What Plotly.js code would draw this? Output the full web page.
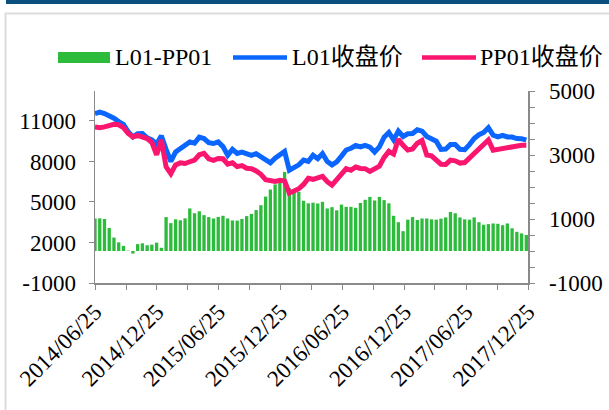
<!DOCTYPE html>
<html>
<head>
<meta charset="utf-8">
<script src="https://cdn.plot.ly/plotly-3.0.1.min.js"></script>
<style>
  html, body { margin: 0; padding: 0; background: #fff; }
  #chart { width: 609px; height: 410px; }
</style>
</head>
<body>
<div id="chart"></div>
<script>
// ---- data (biweekly samples) ----
const dates = [
  "2014-06-25","2014-07-09","2014-07-23","2014-08-06","2014-08-20","2014-09-03","2014-09-17","2014-10-01",
  "2014-10-15","2014-10-29","2014-11-12","2014-11-26","2014-12-10","2014-12-24","2015-01-07","2015-01-21",
  "2015-02-04","2015-02-18","2015-03-04","2015-03-18","2015-04-01","2015-04-15","2015-04-29","2015-05-13",
  "2015-05-27","2015-06-10","2015-06-24","2015-07-08","2015-07-22","2015-08-05","2015-08-19","2015-09-02",
  "2015-09-16","2015-09-30","2015-10-14","2015-10-28","2015-11-11","2015-11-25","2015-12-09","2015-12-23",
  "2016-01-06","2016-01-20","2016-02-03","2016-02-17","2016-03-02","2016-03-16","2016-03-30","2016-04-13",
  "2016-04-27","2016-05-11","2016-05-25","2016-06-08","2016-06-22","2016-07-06","2016-07-20","2016-08-03",
  "2016-08-17","2016-08-31","2016-09-14","2016-09-28","2016-10-12","2016-10-26","2016-11-09","2016-11-23",
  "2016-12-07","2016-12-21","2017-01-04","2017-01-18","2017-02-01","2017-02-15","2017-03-01","2017-03-15",
  "2017-03-29","2017-04-12","2017-04-26","2017-05-10","2017-05-24","2017-06-07","2017-06-21","2017-07-05",
  "2017-07-19","2017-08-02","2017-08-16","2017-08-30","2017-09-13","2017-09-27","2017-10-11","2017-10-25",
  "2017-11-08","2017-11-22","2017-12-06","2017-12-20"
];
const l01Close = [
  11550,11650,11550,11400,11200,10950,10750,10200,9820,10050,10070,9750,9600,9300,9900,8900,
  8000,8700,8950,9200,9450,9350,9800,9700,9400,9330,9450,9100,8460,8900,8600,8700,
  8580,8460,8580,8330,8100,7900,8250,8460,8750,7350,7500,7750,8100,8000,8460,8200,
  8580,8000,7750,7980,8400,8850,8980,9180,9080,9200,9070,8700,9080,9800,10150,9600,
  10250,9850,10050,10070,10350,10250,9850,9720,9500,8900,8920,9250,9250,8900,8880,9250,
  9700,9980,10150,10500,9950,9820,9940,9820,9810,9700,9690,9580
];
const pp01Close = [
  10550,10500,10560,10700,10750,10720,10500,10070,9820,9940,9830,9700,9400,8500,9600,7600,
  7100,7750,7900,7850,7980,8100,8500,8600,8200,8090,8220,8200,7800,7900,7620,7700,
  7500,7470,7300,7050,6650,6550,6520,6600,6550,5650,5850,5980,6300,6750,6680,6750,
  6900,6500,6250,6650,7020,7470,7350,7590,7480,7470,7270,7420,7650,8300,8750,8550,
  9650,9200,8850,8930,9350,9550,8480,8420,8100,7800,7780,8100,8050,7880,7920,8250,
  8600,8900,9200,9600,8840,8900,8960,9070,9070,9190,9200,9200
];
const spreadL01PP01 = [
  1016,1020,1000,720,420,270,160,10,-80,215,240,180,200,260,100,1060,
  870,990,960,1020,1330,1180,1240,1120,1060,1016,1066,1100,1016,955,950,1000,
  1090,1160,1280,1430,1700,1920,2080,2200,2470,1960,1900,1850,1570,1490,1510,1485,
  1536,1330,1370,1270,1450,1380,1380,1350,1500,1600,1690,1580,1690,1590,1490,1100,
  900,620,980,1060,970,1016,1016,990,980,1010,1050,1220,1180,1050,990,980,
  1050,900,820,840,860,850,806,860,710,600,550,500
];
const seriesNames = ["L01-PP01", "L01收盘价", "PP01收盘价"];
const leftTicks = [-1000, 2000, 5000, 8000, 11000];
const rightTicks = [-1000, 1000, 3000, 5000];

// ---- styles ----
const GREEN = "#2dbb3b", BLUE = "#0a66ff", PINK = "#fa156f";
const AXIS = "#8a8a8a";
const FONT = "Liberation Serif, 'Noto Sans CJK SC', serif";
const W = 609, H = 410;
const M = {l: 95, r: 81, t: 91, b: 127};
const pw = W - M.l - M.r, ph = H - M.t - M.b;
const px = x => (x - M.l) / pw;          // pixel -> paper x
const py = y => (H - M.b - y) / ph;      // pixel -> paper y

const traces = [
  {type: "bar", x: dates, y: spreadL01PP01, name: seriesNames[0], yaxis: "y",
   marker: {color: GREEN, line: {width: 0}}, showlegend: false},
  {type: "scatter", mode: "lines", x: dates, y: l01Close, name: seriesNames[1], yaxis: "y2",
   line: {color: BLUE, width: 5}, showlegend: false},
  {type: "scatter", mode: "lines", x: dates, y: pp01Close, name: seriesNames[2], yaxis: "y2",
   line: {color: PINK, width: 5}, showlegend: false}
];

// legend drawn as shapes + text
const legY = 57.5;
const shapes = [
  // top navy band
  {type: "rect", xref: "paper", yref: "paper", x0: px(6), x1: px(612), y0: py(4), y1: py(-2),
   fillcolor: "#0b4f7f", line: {width: 0}, layer: "below"},
  // light frame
  {type: "rect", xref: "paper", yref: "paper", x0: px(5.5), x1: px(620), y0: py(420), y1: py(13.5),
   fillcolor: "rgba(0,0,0,0)", line: {color: "#dcdcdc", width: 2}, layer: "below"},
  {type: "rect", xref: "paper", yref: "paper", x0: px(58), x1: px(110), y0: py(63), y1: py(52),
   fillcolor: GREEN, line: {width: 0}},
  {type: "line", xref: "paper", yref: "paper", x0: px(233), x1: px(287), y0: py(legY), y1: py(legY),
   line: {color: BLUE, width: 4.5}},
  {type: "line", xref: "paper", yref: "paper", x0: px(422), x1: px(476), y0: py(legY), y1: py(legY),
   line: {color: PINK, width: 4.5}}
];
const legX = [113, 290, 478];
const annotations = seriesNames.map((t, i) => ({
  text: t, xref: "paper", yref: "paper", x: px(legX[i]), y: py(legY),
  xanchor: "left", yanchor: "middle", showarrow: false,
  font: {family: FONT, size: 24, color: "#000"}
}));

const layout = {
  width: W, height: H,
  margin: M,
  paper_bgcolor: "#fff", plot_bgcolor: "#fff",
  font: {family: FONT, size: 23, color: "#000"},
  showlegend: false,
  bargap: 0.3,
  xaxis: {
    type: "date", range: ["2014-06-25", "2017-12-25"],
    tick0: "2014-06-25", dtick: "M6", tickformat: "%Y/%m/%d",
    tickangle: -45, ticks: "outside", ticklen: 5, tickcolor: AXIS,
    showline: true, linecolor: AXIS, linewidth: 1.5, showgrid: false, zeroline: false,
    tickfont: {family: FONT, size: 23, color: "#000"},
    minor: {dtick: "M3", tick0: "2014-06-25", ticks: "outside", ticklen: 5, tickcolor: AXIS, showgrid: false}
  },
  yaxis: {
    side: "right", range: [-1000, 5000],
    tickmode: "array", tickvals: rightTicks, ticktext: rightTicks.map(String),
    ticks: "outside", ticklen: 5, tickcolor: AXIS,
    minor: {dtick: 500, tick0: -1000, ticks: "outside", ticklen: 5, tickcolor: AXIS, showgrid: false},
    showline: true, linecolor: AXIS, linewidth: 1.5, showgrid: false, zeroline: false,
    ticklabelstandoff: 10,
    tickfont: {family: FONT, size: 23, color: "#000"}
  },
  yaxis2: {
    overlaying: "y", side: "left", range: [-1000, 13220],
    tickmode: "array", tickvals: leftTicks, ticktext: leftTicks.map(String),
    ticks: "outside", ticklen: 5, tickcolor: AXIS,
    showline: true, linecolor: AXIS, linewidth: 1.5, showgrid: false, zeroline: false,
    ticklabelstandoff: 8,
    tickfont: {family: FONT, size: 23, color: "#000"}
  },
  shapes: shapes,
  annotations: annotations
};

Plotly.newPlot("chart", traces, layout, {displayModeBar: false, staticPlot: true});
</script>
</body>
</html>
